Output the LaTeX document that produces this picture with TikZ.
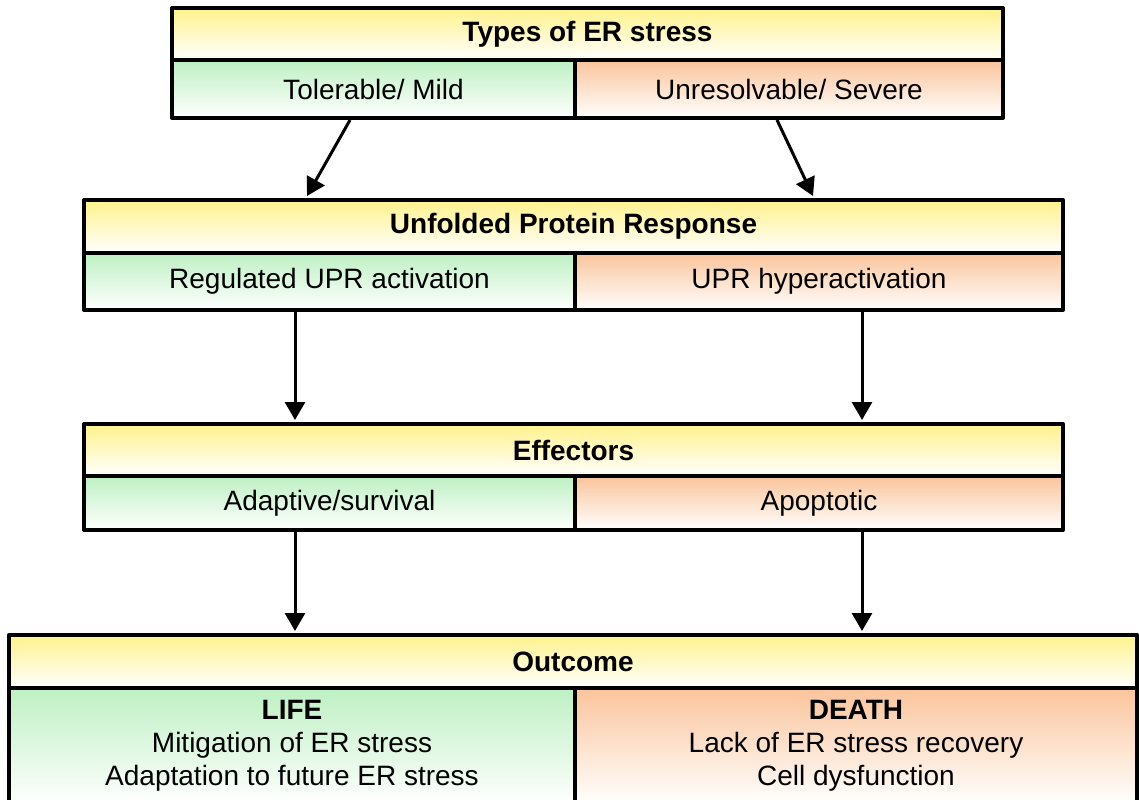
\documentclass[tikz,border=0pt]{standalone}
\usepackage{fontspec}
\setmainfont{Liberation Sans}
\usetikzlibrary{arrows.meta,calc}
\definecolor{hdryellow}{RGB}{255,242,140}
\definecolor{mildgreen}{RGB}{190,240,195}
\definecolor{severeorange}{RGB}{250,196,155}
\begin{document}
\begin{tikzpicture}[x=0.5pt, y=0.5pt, line join=round, >={Triangle[length=9pt,width=10pt]},
		every node/.style={inner sep=0pt, font=\fontsize{14}{16.5}\selectfont},
		hdr/.style={draw, line width=2pt, top color=hdryellow, bottom color=white, font=\fontsize{14}{16.5}\selectfont\bfseries},
		good/.style={draw, line width=2pt, top color=mildgreen, bottom color=white, align=center},
		bad/.style={draw, line width=2pt, top color=severeorange, bottom color=white, align=center},
		arr/.style={->, line width=1.5pt}]
	\useasboundingbox (0,0) rectangle (1139,799);
	\clip (0,0) rectangle (1139,799);
	% types of stress
	\node[hdr, minimum width=415.5pt, minimum height=26pt] (types) at (587.5,765) {Types of ER stress};
	\node[good, minimum width=201.5pt, minimum height=29pt] (mild) at (373.5,710) {Tolerable/ Mild};
	\node[bad, minimum width=214pt, minimum height=29pt] (severe) at (789,710) {Unresolvable/ Severe};
	% UPR
	\node[hdr, minimum width=489.5pt, minimum height=26.5pt] (upr) at (573.5,572.5) {Unfolded Protein Response};
	\node[good, minimum width=245.5pt, minimum height=28.5pt] (regul) at (329.5,517.5) {Regulated UPR activation};
	\node[bad, minimum width=244pt, minimum height=28.5pt] (hyper) at (819,517.5) {UPR hyperactivation};
	% effectors
	\node[hdr, minimum width=489.5pt, minimum height=26pt] (eff) at (573.5,349) {Effectors};
	\node[good, minimum width=245.5pt, minimum height=27pt] (adapt) at (329.5,296) {Adaptive/survival};
	\node[bad, minimum width=244pt, minimum height=27pt] (apopt) at (819,296) {Apoptotic};
	% outcome
	\node[hdr, minimum width=564pt, minimum height=26.5pt] (outc) at (573,137.5) {Outcome};
	\node[good, minimum width=283pt, minimum height=58pt] (life) at (292,53) {\textbf{LIFE}\\Mitigation of ER stress\\Adaptation to future ER stress};
	\node[bad, minimum width=281pt, minimum height=58pt] (death) at (856,53) {\textbf{DEATH}\\Lack of ER stress recovery\\Cell dysfunction};
	% arrows
	\draw[arr] ($(mild.south)+(-11.75pt,0)$) -- ($(upr.north -| regul)+(-11.25pt,1pt)$);
	\draw[arr] ($(severe.south)+(-6pt,0)$) -- ($(upr.north -| hyper)+(-3pt,1pt)$);
	\draw[arr] ($(regul.south -| life)+(1.5pt,0)$) -- ($(eff.north -| life)+(1.5pt,1pt)$);
	\draw[arr] ($(hyper.south -| death)+(3pt,0)$) -- ($(eff.north -| death)+(3pt,1pt)$);
	\draw[arr] ($(adapt.south -| life)+(1.5pt,0)$) -- ($(outc.north -| life)+(1.5pt,1pt)$);
	\draw[arr] ($(apopt.south -| death)+(3pt,0)$) -- ($(outc.north -| death)+(3pt,1pt)$);
\end{tikzpicture}
\end{document}
